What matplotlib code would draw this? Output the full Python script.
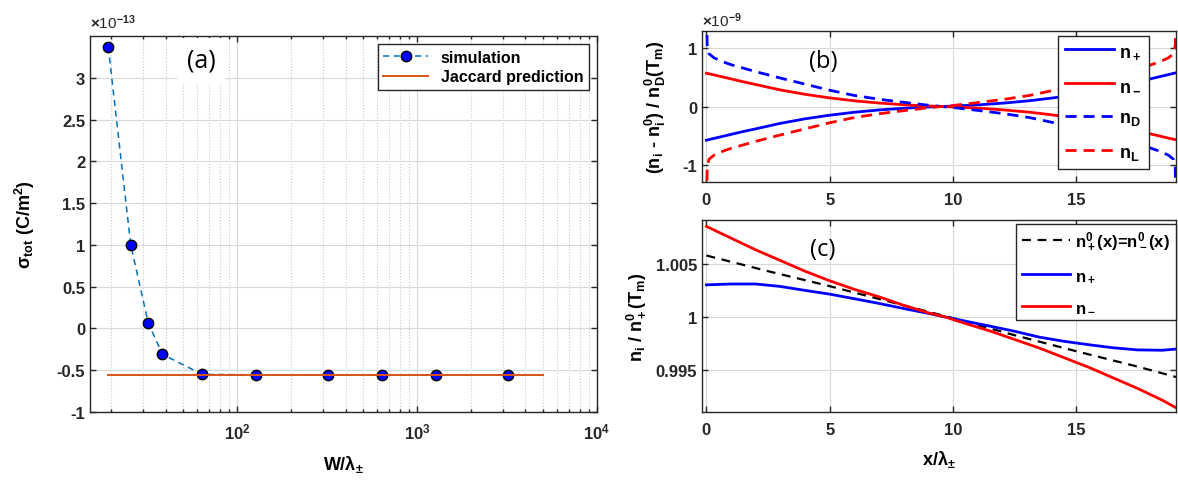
import numpy as np
import matplotlib
matplotlib.use("Agg")
import matplotlib.pyplot as plt
from matplotlib.ticker import FuncFormatter, NullLocator, FixedLocator

plt.rcParams['font.family'] = ['Liberation Sans', 'DejaVu Sans']
plt.rcParams['font.weight'] = 'bold'
plt.rcParams['mathtext.fontset'] = 'custom'
plt.rcParams['mathtext.rm'] = 'Liberation Sans:bold'
plt.rcParams['mathtext.bf'] = 'Liberation Sans:bold'
plt.rcParams['mathtext.it'] = 'Liberation Sans:italic'
plt.rcParams['mathtext.default'] = 'rm'

# (a) surface charge vs W/lambda  (values in units of 1e-13 C/m^2)
sim_w = [19.2, 25.6, 32, 38.4, 64, 128, 320, 640, 1280, 3200]
sim_sigma = [3.37, 1.0, 0.07, -0.31, -0.55, -0.555, -0.555, -0.555, -0.555, -0.555]
jac_w = [19.2, 5000]
jac_sigma = [-0.556, -0.556]

# (b) relative deviations (units of 1e-9)
xb = [0, 0.03, 0.1, 0.3, 0.5, 0.7, 1, 1.5, 2, 3, 4, 5, 6, 7, 8, 9, 9.55,
      10.1, 11.1, 12.1, 13.1, 14.1, 15.1, 16.1, 17.1, 17.6, 18.05, 18.35, 18.55, 18.75, 18.95, 19.02, 19.05]
b_nplus = [-0.58, -0.577, -0.57, -0.55, -0.53, -0.51, -0.48, -0.43, -0.385, -0.29, -0.212, -0.15, -0.099, -0.06, -0.03, -0.009, 0,
           0.009, 0.03, 0.06, 0.099, 0.15, 0.212, 0.29, 0.385, 0.43, 0.48, 0.51, 0.53, 0.55, 0.57, 0.577, 0.58]
b_nminus = [0.573, 0.57, 0.563, 0.545, 0.525, 0.505, 0.475, 0.425, 0.378, 0.285, 0.21, 0.148, 0.098, 0.06, 0.03, 0.009, 0,
            -0.009, -0.03, -0.06, -0.098, -0.148, -0.21, -0.285, -0.378, -0.425, -0.475, -0.505, -0.525, -0.545, -0.563, -0.57, -0.573]
b_nD = [1.9, 1.05, 0.91, 0.84, 0.8, 0.765, 0.72, 0.66, 0.6, 0.49, 0.385, 0.28, 0.19, 0.125, 0.072, 0.022, 0,
        -0.022, -0.072, -0.125, -0.19, -0.28, -0.385, -0.49, -0.6, -0.66, -0.72, -0.765, -0.8, -0.84, -0.91, -1.05, -1.9]
b_nL = [-1.9, -1.05, -0.91, -0.84, -0.8, -0.765, -0.72, -0.66, -0.6, -0.49, -0.385, -0.28, -0.19, -0.125, -0.072, -0.022, 0,
        0.022, 0.072, 0.125, 0.19, 0.28, 0.385, 0.49, 0.6, 0.66, 0.72, 0.765, 0.8, 0.84, 0.91, 1.05, 1.9]

# (c) normalised densities
xc = [0, 1, 2, 3, 4, 5, 6, 7, 8, 9, 9.7, 10.5, 11.5, 12.5, 13.5, 14.5, 15.5, 16.5, 17.5, 18.5, 19.05]
c_nminus = [1.0085, 1.0074, 1.0063, 1.0053, 1.0043, 1.0034, 1.0026, 1.0019, 1.0011, 1.0004, 1.0,
            0.9994, 0.9987, 0.9979, 0.9971, 0.9962, 0.9953, 0.9943, 0.9933, 0.9922, 0.9915]
c_nplus = [1.00302, 1.0031, 1.0031, 1.00287, 1.0025, 1.00215, 1.00172, 1.00128, 1.0008, 1.00035, 1.0,
           0.99962, 0.99915, 0.99867, 0.99812, 0.99773, 0.99741, 0.99712, 0.99692, 0.99689, 0.997]
xc0 = [0, 2.5, 5, 7.5, 10, 12.5, 15, 17.5, 19.05]
c_n0 = [1.00577, 1.0043, 1.0029, 1.0014, 0.9999, 0.9983, 0.9968, 0.99535, 0.99438]

W, H = 1178, 489
fig = plt.figure(figsize=(W / 100, H / 100), dpi=100)
axc = '#262626'
gridc = '#d9d9d9'


def style(ax):
    for s in ax.spines.values():
        s.set_color(axc)
        s.set_linewidth(1.0)
    ax.tick_params(which='both', direction='in', top=True, right=True,
                   colors=axc, labelcolor='#262626', labelsize=12, width=1.0)
    ax.tick_params(which='major', length=4.5)
    ax.tick_params(which='minor', length=2.5)
    ax.tick_params(axis='x', which='both', pad=7)
    ax.set_axisbelow(True)
    ax.grid(True, which='major', color=gridc, linewidth=0.8)


def pos(l, t, r, b):
    return [l / W, 1 - b / H, (r - l) / W, (b - t) / H]


gfmt = FuncFormatter(lambda v, p: '%g' % v)

# ---------- (a)
ax1 = fig.add_axes(pos(90, 37, 597, 413))
style(ax1)
ax1.set_xscale('log')
ax1.grid(True, which='minor', axis='x', color='#c8c8c8', linestyle=':', linewidth=0.8)
ax1.plot(sim_w, sim_sigma, '--o', color='#0072BD', lw=1.1, dashes=(4, 3),
         markerfacecolor='#0000ff', markeredgecolor='k', markersize=7.5, label='simulation')
ax1.plot(jac_w, jac_sigma, '-', color='#D95319', lw=1.4, label='Jaccard prediction')
ax1.set_xlim(15.2, 1e4)
ax1.set_ylim(-1, 3.5)
ax1.yaxis.set_major_locator(FixedLocator(np.arange(-1, 3.01, 0.5)))
ax1.yaxis.set_major_formatter(gfmt)
ax1.yaxis.set_minor_locator(NullLocator())
ax1.set_xticks([1e2, 1e3, 1e4])
ax1.set_xlabel(r'W/$\lambda_{\pm}$', fontsize=13, fontweight='bold', labelpad=8)
ax1.set_ylabel(r'$\sigma_{tot}$ (C/m$^2$)', fontsize=13, fontweight='bold')
ax1.yaxis.set_label_coords(-0.104, 0.5)
ax1.text(0.0, 1.012, r'$\times$10$^{-13}$', transform=ax1.transAxes, fontsize=11,
         fontweight='normal', va='bottom', ha='left', color='#262626')
ax1.text(0.219, 0.935, '(a)', transform=ax1.transAxes, fontsize=18, fontweight='normal',
         family='Open Sans', ha='center', va='center',
         bbox=dict(facecolor='white', edgecolor='none', pad=7))
leg1 = ax1.legend(loc='upper right', fontsize=11.5, frameon=True, fancybox=False,
                  edgecolor='#262626', framealpha=1, handlelength=2.8, labelspacing=0.3,
                  borderaxespad=0.5, borderpad=0.35)
leg1.get_frame().set_linewidth(1.0)

# ---------- (b)
ax2 = fig.add_axes(pos(702, 32, 1176, 183))
style(ax2)
ax2.plot(xb, b_nplus, '-', color='#0000ff', lw=2, label=r'n$_+$')
ax2.plot(xb, b_nminus, '-', color='#ff0000', lw=2, label=r'n$_-$')
ax2.plot(xb, b_nD, '--', color='#0000ff', lw=2, dashes=(4, 2.5), label=r'n$_D$')
ax2.plot(xb, b_nL, '--', color='#ff0000', lw=2, dashes=(4, 2.5), label=r'n$_L$')
ax2.set_xlim(-0.18, 19.05)
ax2.set_ylim(-1.3, 1.3)
ax2.set_xticks([0, 5, 10, 15])
ax2.set_yticks([-1, 0, 1])
ax2.yaxis.set_major_formatter(gfmt)
ax2.set_ylabel(r'(n$_i$ - n$_i^0$) / n$_D^0$(T$_m$)', fontsize=13, fontweight='bold')
ax2.yaxis.set_label_coords(-0.072, 0.5)
ax2.text(0.0, 1.015, r'$\times$10$^{-9}$', transform=ax2.transAxes, fontsize=11,
         fontweight='normal', va='bottom', ha='left', color='#262626')
ax2.text(0.255, 0.8, '(b)', transform=ax2.transAxes, fontsize=17, fontweight='normal',
         family='Open Sans', ha='center', va='center')
leg2 = ax2.legend(loc='upper right', bbox_to_anchor=(0.942, 0.97), fontsize=13,
                  frameon=True, fancybox=False, edgecolor='#262626', framealpha=1,
                  handlelength=2.7, labelspacing=0.9, borderpad=0.4, handletextpad=0.3,
                  borderaxespad=0.0)
leg2.get_frame().set_linewidth(1.0)

# ---------- (c)
ax3 = fig.add_axes(pos(702, 221, 1176, 413))
style(ax3)
ax3.plot(xc0, c_n0, '--', color='k', lw=1.6, dashes=(4, 3), label=r'n$_+^0$(x)=n$_-^0$(x)')
ax3.plot(xc, c_nplus, '-', color='#0000ff', lw=2, label=r'n$_+$')
ax3.plot(xc, c_nminus, '-', color='#ff0000', lw=2, label=r'n$_-$')
ax3.set_xlim(-0.18, 19.05)
ax3.set_ylim(0.9911, 1.0091)
ax3.set_xticks([0, 5, 10, 15])
ax3.set_yticks([0.995, 1.0, 1.005])
ax3.yaxis.set_major_formatter(gfmt)
ax3.set_xlabel(r'x/$\lambda_{\pm}$', fontsize=13, fontweight='bold', labelpad=8)
ax3.set_ylabel(r'n$_i$ / n$_+^0$(T$_m$)', fontsize=13, fontweight='bold')
ax3.yaxis.set_label_coords(-0.114, 0.5)
ax3.text(0.255, 0.85, '(c)', transform=ax3.transAxes, fontsize=17, fontweight='normal',
         family='Open Sans', ha='center', va='center')
leg3 = ax3.legend(loc='upper right', bbox_to_anchor=(1.0, 0.98), fontsize=12,
                  frameon=True, fancybox=False, edgecolor='#262626', framealpha=1,
                  handlelength=2.9, labelspacing=0.95, borderpad=0.35, handletextpad=0.3,
                  borderaxespad=0.0)
leg3.get_frame().set_linewidth(1.0)

fig.savefig('out.png', dpi=100)
